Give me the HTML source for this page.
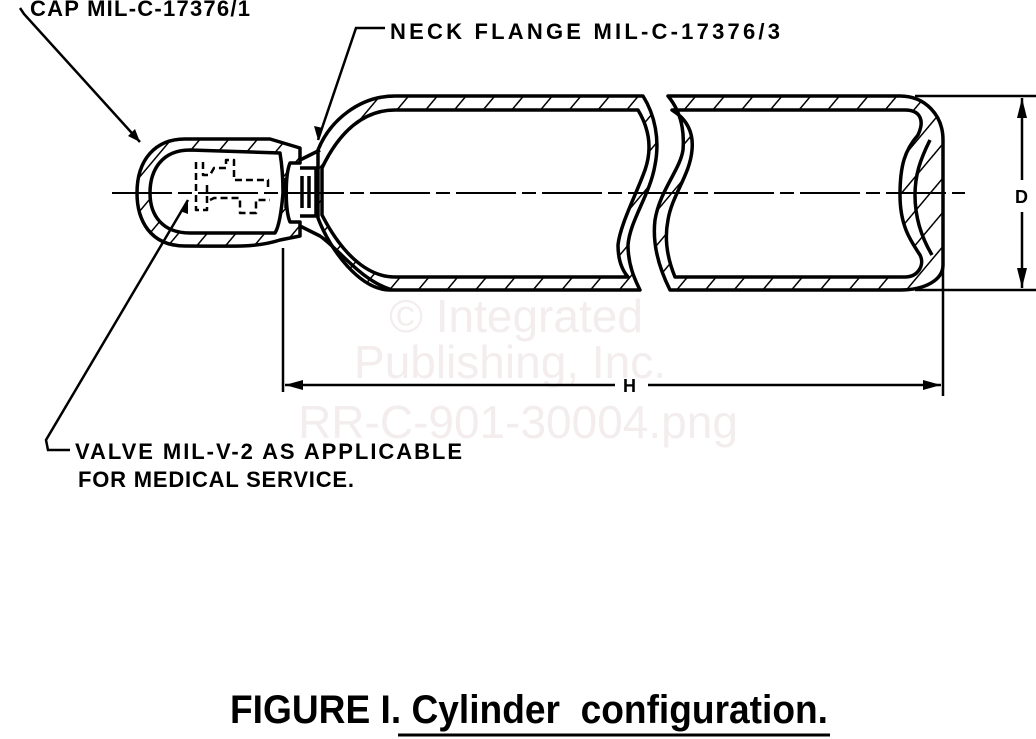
<!DOCTYPE html>
<html><head><meta charset="utf-8"><style>
html,body{margin:0;padding:0;background:#fff;}
svg{display:block;}
text{font-family:"Liberation Sans",sans-serif;font-weight:bold;fill:#000;}
</style></head><body>
<svg width="1036" height="739" viewBox="0 0 1036 739" xmlns="http://www.w3.org/2000/svg">
<defs>
<pattern id="h" width="22" height="22" patternUnits="userSpaceOnUse" patternTransform="rotate(40)">
<rect width="22" height="22" fill="#fff"/><line x1="0" y1="0" x2="0" y2="22" stroke="#000" stroke-width="3"/>
</pattern>
</defs>
<g font-family="Liberation Sans" text-anchor="middle">
<text x="516" y="332" font-size="46" style="font-weight:normal;fill:#f3eded">© Integrated</text>
<text x="510" y="378" font-size="46" style="font-weight:normal;fill:#f3eded">Publishing, Inc.</text>
<text x="518" y="438" font-size="46" style="font-weight:normal;fill:#f3eded">RR-C-901-30004.png</text>
</g>
<g stroke="#000" stroke-width="3.5" fill="none" stroke-linejoin="round">
<path fill="url(#h)" fill-rule="evenodd" d="M318,150 C330,120 360,96 395,96 L643,96 C655,115 660,140 655,165 C650,195 630,220 628,245 C628,265 635,280 640,290 L390,290 C360,290 330,250 318,218 Z M322,168 C340,130 365,110 395,110 L638,110 C650,130 652,150 645,170 C636,195 620,225 618,245 C618,260 622,270 628,277 L395,277 C365,277 340,250 322,215 Z"/>
<path fill="url(#h)" fill-rule="evenodd" d="M668,96 L900,96 C925,96 943,115 943,140 L943,265 C943,280 925,290 900,290 L670,290 C660,270 652,245 655,220 C660,190 680,170 683,150 C685,125 678,108 668,96 Z M672,110 L905,110 C920,110 925,120 918,135 C905,150 900,165 900,195 C900,225 910,240 920,255 C925,265 918,277 905,277 L675,277 C668,260 664,240 668,220 C672,195 690,175 692,150 C694,130 685,118 672,110 Z"/>
<path d="M930,140 C920,160 915,175 915,195 C915,215 920,235 932,255" />
<path fill="url(#h)" fill-rule="evenodd" d="M300,148 L300,163 L290,163 C285,175 285,210 290,222 L300,222 L300,236 L280,240 C255,248 235,246 185,246 C150,246 137,220 137,193 C137,160 155,139 185,139 L270,139 Z M280,153 L190,150 C162,150 150,170 150,193 C150,215 162,233 190,233 L275,233 C280,225 282,205 283,193 C283,180 282,165 280,153 Z"/>
<path d="M286,178 L286,208 M300,168 L316,168 L316,216 L300,216 M302,176 L302,208 M309,176 L309,208"/>
<path d="M300,160 L320,150 M300,226 L320,236 C340,250 360,280 392,290"/>
<path stroke-width="2.5" stroke-dasharray="7,4" d="M196,162 L196,210 L207,210 L207,182 M203,162 L203,175 L210,175 L214,168 L226,168 L226,160 L234,160 L234,180 L268,180 L268,190 M210,200 L214,198 L240,198 L240,213 L256,213 L256,200 L270,200"/>
</g>
<line x1="112" y1="193" x2="965" y2="193" stroke="#000" stroke-width="2" stroke-dasharray="60,6,14,6"/>
<g stroke="#000" stroke-width="2.5" fill="none">
<line x1="915" y1="96" x2="1036" y2="96"/><line x1="915" y1="290" x2="1036" y2="290"/>
<line x1="1022" y1="98" x2="1022" y2="180"/><line x1="1022" y1="212" x2="1022" y2="288"/>
<line x1="283" y1="248" x2="283" y2="392"/><line x1="943" y1="265" x2="943" y2="396"/>
<line x1="285" y1="385" x2="615" y2="385"/><line x1="648" y1="385" x2="941" y2="385"/>
<polyline points="20,8 24,14 140,142"/>
<polyline points="385,28 356,28 318,140"/>
<polyline points="70,450 48,450 46,440 188,200"/>
<line x1="398" y1="735" x2="830" y2="735" stroke-width="3"/>
</g>
<g fill="#000">
<polygon points="1022,98 1017,118 1027,118"/><polygon points="1022,288 1017,268 1027,268"/>
<polygon points="285,385 303,380 303,390"/><polygon points="941,385 923,380 923,390"/>
<polygon points="140,142 128,136 135,129"/><polygon points="318,140 314,126 323,128"/><polygon points="188,200 180,211 188,214"/>
</g>
<g font-size="22">
<text x="30" y="16" textLength="220" lengthAdjust="spacing">CAP MIL-C-17376/1</text>
<text x="390" y="39" textLength="390" lengthAdjust="spacing">NECK FLANGE MIL-C-17376/3</text>
<text x="75" y="459" textLength="387" lengthAdjust="spacing">VALVE MIL-V-2 AS APPLICABLE</text>
<text x="78" y="487" textLength="276" lengthAdjust="spacing">FOR MEDICAL SERVICE.</text>
<text x="1015" y="203" font-size="18">D</text>
<text x="623" y="392" font-size="18">H</text>
</g>
<text x="230" y="723" font-size="40" textLength="598" lengthAdjust="spacingAndGlyphs">FIGURE I. Cylinder&#160;&#160;configuration.</text>
</svg>
</body></html>
